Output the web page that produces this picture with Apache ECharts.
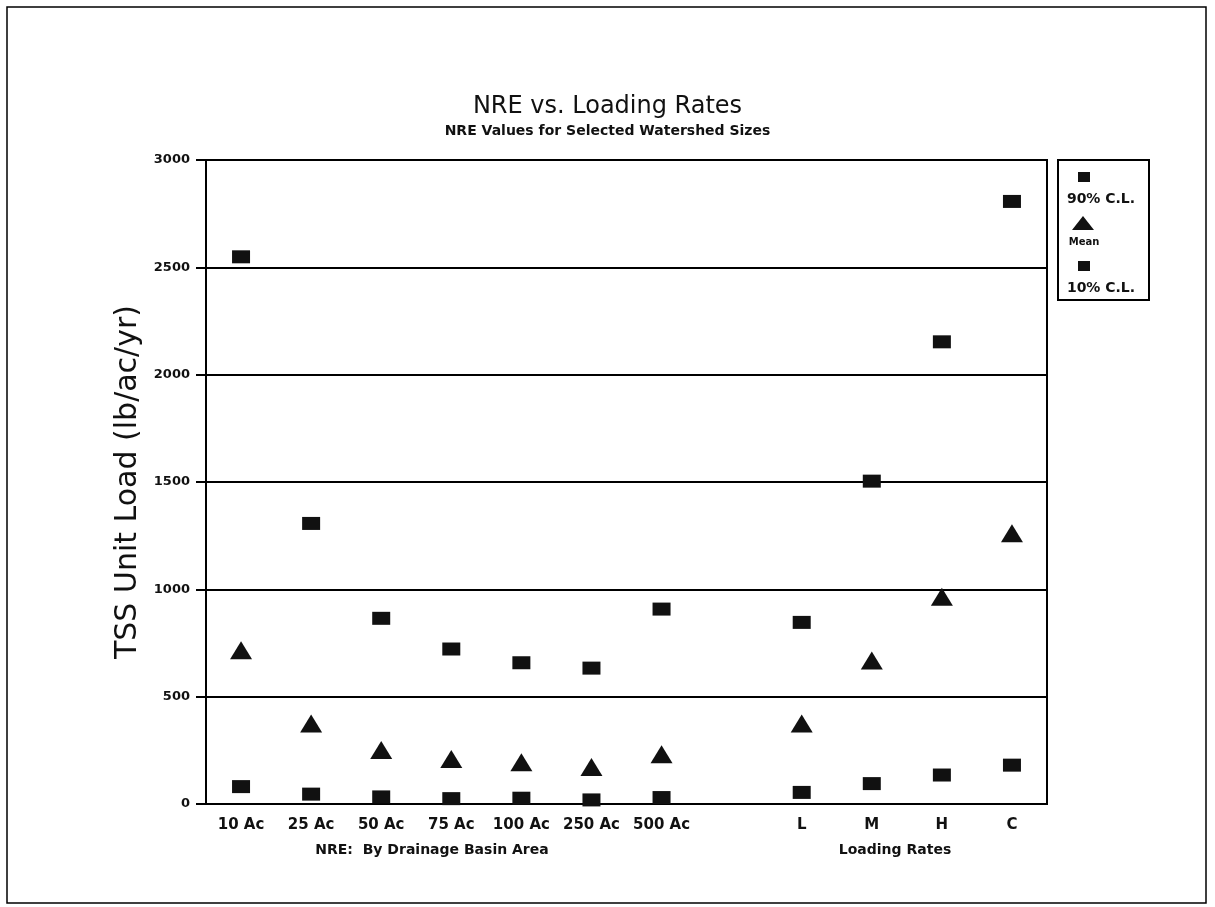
<!DOCTYPE html>
<html>
<head>
<meta charset="utf-8">
<script src="https://cdn.jsdelivr.net/npm/echarts@6/dist/echarts.min.js"></script>
<style>
html,body{margin:0;padding:0;background:#fff;}
#chart{width:1215px;height:907px;}
</style>
</head>
<body>
<div id="chart"></div>
<script>
const categories = ['10 Ac','25 Ac','50 Ac','75 Ac','100 Ac','250 Ac','500 Ac','','L','M','H','C'];
const cl90 = [2549,1307,865,722,658,633,908,null,846,1504,2153,2807];
const meanVals = [716,375,251,210,194,172,232,null,375,668,965,1261];
const cl10 = [81,46,33,25,27,19,30,null,54,95,135,181];
const yMin = 0, yMax = 3000, yStep = 500;
const titleText = 'NRE vs. Loading Rates';
const subtitleText = 'NRE Values for Selected Watershed Sizes';
const yName = 'TSS Unit Load (lb/ac/yr)';
const groupLabels = ['NRE:  By Drainage Basin Area', 'Loading Rates'];
const legendNames = ['90% C.L.', 'Mean', '10% C.L.'];

const chart = echarts.init(document.getElementById('chart'));
const ink = '#111';
const lblFont = {color: ink, fontFamily: 'DejaVu Sans', fontWeight: 'bold'};

const option = {
  backgroundColor: '#fff',
  animation: false,
  title: [
    {text: titleText, left: 'center', top: 90,
     textStyle: {color: ink, fontFamily: 'DejaVu Sans', fontWeight: 'normal', fontSize: 24}},
    {text: subtitleText, left: 'center', top: 119,
     textStyle: {color: ink, fontFamily: 'DejaVu Sans', fontWeight: 'bold', fontSize: 14}}
  ],
  grid: {left: 206, right: 168, top: 160, bottom: 103, show: true, borderColor: '#000', borderWidth: 2},
  xAxis: {
    type: 'category', data: categories, boundaryGap: true,
    axisLine: {lineStyle: {color: '#000', width: 2}},
    axisTick: {alignWithLabel: true, length: 9, lineStyle: {color: '#000', width: 2}},
    axisLabel: Object.assign({margin: 14, interval: 0, fontSize: 15}, lblFont),
    splitLine: {show: false}
  },
  yAxis: {
    type: 'value', min: yMin, max: yMax, interval: yStep,
    name: yName, nameLocation: 'middle', nameGap: 60, nameRotate: 90,
    nameTextStyle: {color: ink, fontFamily: 'DejaVu Sans', fontSize: 30},
    axisLine: {show: true, lineStyle: {color: '#000', width: 2}},
    axisTick: {show: true, length: 10, lineStyle: {color: '#000', width: 2}},
    axisLabel: Object.assign({margin: 16, fontSize: 13, formatter: function (v) { return String(v); }}, lblFont),
    splitLine: {show: true, lineStyle: {color: '#000', width: 2}}
  },
  series: [
    {name: legendNames[0], type: 'scatter', data: cl90, symbol: 'rect', symbolSize: [18, 13],
     itemStyle: {color: ink, opacity: 1}},
    {name: legendNames[1], type: 'scatter', data: meanVals, symbol: 'triangle', symbolSize: [22, 18],
     itemStyle: {color: ink, opacity: 1}},
    {name: legendNames[2], type: 'scatter', data: cl10, symbol: 'rect', symbolSize: [18, 13],
     itemStyle: {color: ink, opacity: 1}}
  ],
  graphic: [
    {type: 'rect', shape: {x: 7, y: 7, width: 1199, height: 896},
     style: {fill: 'none', stroke: '#000', lineWidth: 1.5}, silent: true},
    {type: 'text', x: 432, y: 850, style: {text: groupLabels[0], fill: ink, font: 'bold 14px "DejaVu Sans"', textAlign: 'center', textVerticalAlign: 'middle'}},
    {type: 'text', x: 895, y: 850, style: {text: groupLabels[1], fill: ink, font: 'bold 14px "DejaVu Sans"', textAlign: 'center', textVerticalAlign: 'middle'}},
    {type: 'rect', shape: {x: 1058, y: 160, width: 91, height: 140},
     style: {fill: '#fff', stroke: '#000', lineWidth: 2}},
    {type: 'rect', shape: {x: 1078, y: 172, width: 12, height: 10}, style: {fill: ink}},
    {type: 'text', x: 1101, y: 199, style: {text: legendNames[0], fill: ink, font: 'bold 14px "DejaVu Sans"', textAlign: 'center', textVerticalAlign: 'middle'}},
    {type: 'polygon', shape: {points: [[1083, 216], [1094, 230], [1072, 230]]}, style: {fill: ink}},
    {type: 'text', x: 1084, y: 242, style: {text: legendNames[1], fill: ink, font: 'bold 10px "DejaVu Sans"', textAlign: 'center', textVerticalAlign: 'middle'}},
    {type: 'rect', shape: {x: 1078, y: 261, width: 12, height: 10}, style: {fill: ink}},
    {type: 'text', x: 1101, y: 288, style: {text: legendNames[2], fill: ink, font: 'bold 14px "DejaVu Sans"', textAlign: 'center', textVerticalAlign: 'middle'}}
  ]
};
chart.setOption(option);
</script>
</body>
</html>
